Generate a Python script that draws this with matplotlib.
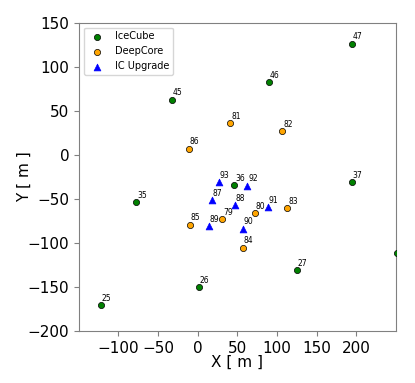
import matplotlib
matplotlib.use("Agg")
import matplotlib.pyplot as plt

# --- posiciones de los strings ---
icecube_ids = [25, 26, 27, 35, 36, 37, 45, 46, 47, 78]
icecube_x = [-121.7, 1.3, 124.7, -77.6, 46.2, 194.0, -33.1, 90.3, 194.8, 251.0]
icecube_y = [-170.8, -150.3, -131.1, -53.9, -34.2, -30.5, 62.6, 82.7, 126.2, -111.8]

deepcore_ids = [79, 80, 81, 82, 83, 84, 85, 86]
deepcore_x = [31.1, 72.3, 41.2, 106.7, 113.0, 56.7, -10.1, -10.8]
deepcore_y = [-72.8, -66.3, 35.8, 27.4, -60.3, -105.4, -79.3, 7.0]

upgrade_ids = [87, 88, 89, 90, 91, 92, 93]
upgrade_x = [18.1, 47.1, 13.9, 56.7, 89.0, 62.6, 26.9]
upgrade_y = [-51.2, -56.9, -80.8, -83.8, -59.2, -35.0, -31.2]

fig = plt.figure(figsize=(4.15, 3.83), dpi=100)
ax = fig.add_axes([0.190, 0.1358, 0.764, 0.805])

ax.scatter(icecube_x, icecube_y, s=20, c='green', edgecolors='black',
           linewidths=0.5, label='IceCube', zorder=3)
ax.scatter(deepcore_x, deepcore_y, s=20, c='orange', edgecolors='black',
           linewidths=0.5, label='DeepCore', zorder=3)
ax.scatter(upgrade_x, upgrade_y, s=24, c='blue', marker='^', edgecolors='blue',
           linewidths=0.5, label='IC Upgrade', zorder=3)

# etiquetas de cada string
for ids, xs, ys in [(icecube_ids, icecube_x, icecube_y),
                    (deepcore_ids, deepcore_x, deepcore_y),
                    (upgrade_ids, upgrade_x, upgrade_y)]:
    for n, x, y in zip(ids, xs, ys):
        ax.annotate(str(n), (x, y), xytext=(0.5, 3), textcoords='offset points',
                    fontsize=5.5)

ax.set_xlim(-150, 250)
ax.set_ylim(-200, 150)
ax.set_xticks([-100, -50, 0, 50, 100, 150, 200])
ax.set_yticks([-200, -150, -100, -50, 0, 50, 100, 150])
ax.tick_params(labelsize=11, color='gray')
for sp in ax.spines.values():
    sp.set_color('gray')
ax.set_xlabel('X [ m ]', fontsize=11, labelpad=-1)
ax.set_ylabel('Y [ m ]', fontsize=11, labelpad=-3)
ax.legend(loc='upper left', fontsize=7, scatterpoints=1)

fig.savefig('out.png', dpi=100)
